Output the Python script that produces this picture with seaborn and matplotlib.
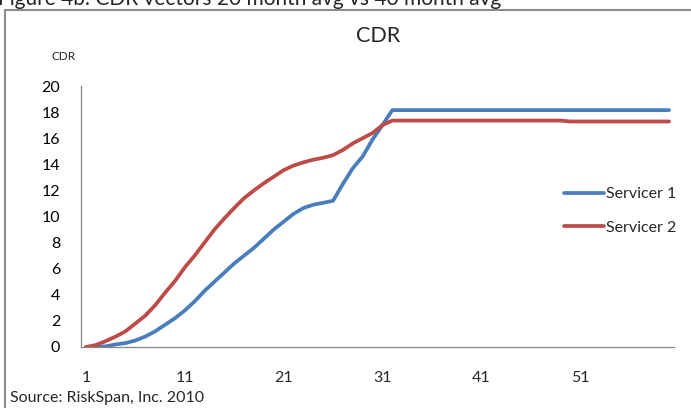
import numpy as np
import pandas as pd
import matplotlib
matplotlib.use("Agg")
import matplotlib.pyplot as plt
import seaborn as sns
from matplotlib.patches import Rectangle

months = list(range(1, 61))
servicer1 = [0.0, 0.0, 0.05, 0.2, 0.3, 0.5, 0.8, 1.2, 1.7, 2.2,
             2.8, 3.5, 4.3, 5.0, 5.7, 6.4, 7.0, 7.6, 8.3, 9.0,
             9.6, 10.2, 10.65, 10.9, 11.05, 11.2, 12.5, 13.7, 14.6, 15.9,
             17.0, 18.15] + [18.15] * 28
servicer2 = [0.0, 0.15, 0.45, 0.8, 1.2, 1.8, 2.4, 3.2, 4.15, 5.05,
             6.1, 7.0, 8.0, 9.0, 9.85, 10.65, 11.4, 12.0, 12.55, 13.05,
             13.55, 13.9, 14.15, 14.35, 14.5, 14.7, 15.1, 15.6, 16.0, 16.4,
             17.0, 17.35] + [17.35] * 17 + [17.28] * 11
series_names = ["Servicer 1", "Servicer 2"]
colors = ["#4a7ebb", "#be4b48"]
y_ticks = [0, 2, 4, 6, 8, 10, 12, 14, 16, 18, 20]
x_labels = [1, 11, 21, 31, 41, 51]

df = pd.DataFrame({
    "month": months * 2,
    "cdr": servicer1 + servicer2,
    "series": [series_names[0]] * 60 + [series_names[1]] * 60,
})

sns.set_style("white")
FONT = ["Lato", "DejaVu Sans"]
plt.rcParams["font.family"] = FONT

W, H = 691, 408
fig = plt.figure(figsize=(W / 100, H / 100), dpi=100)
ax = fig.add_axes([81 / W, 1 - 347 / H, (674 - 81) / W, (347 - 86) / H])

sns.lineplot(data=df, x="month", y="cdr", hue="series", palette=colors,
             linewidth=2.7, ax=ax, legend=False)

ax.set_xlim(0.5, 60.5)
ax.set_ylim(0, 20)
ax.set_yticks(y_ticks)
ax.set_yticklabels([str(v) for v in y_ticks], fontsize=11.5, color="#000000")
ax.set_xticks(np.arange(0.5, 61, 10))
ax.set_xticklabels([])
ax.set_xticks(x_labels, minor=True)
ax.set_xticklabels([str(v) for v in x_labels], minor=True, fontsize=11.5)
ax.tick_params(axis="x", which="minor", length=0, pad=17)
ax.tick_params(axis="x", which="major", length=6, width=0.9, color="#868686", direction="out")
ax.tick_params(axis="y", length=6, width=0.9, color="#868686", direction="out", pad=9)
ax.set_xlabel("")
ax.set_ylabel("")
for side in ["top", "right"]:
    ax.spines[side].set_visible(False)
for side in ["left", "bottom"]:
    ax.spines[side].set_color("#868686")
    ax.spines[side].set_linewidth(0.9)

handles = [plt.Line2D([], [], color=c, lw=2.7) for c in colors]
leg = fig.legend(handles, series_names, loc="center left",
                 bbox_to_anchor=(556 / W, 1 - 211 / H), frameon=False,
                 fontsize=11.5, handlelength=2.5, handletextpad=0.15,
                 labelspacing=1.2, borderpad=0)

fig.text(378 / W, 1 - 36 / H, "CDR", ha="center", va="center", fontsize=15.5)
fig.text(52 / W, 1 - 57 / H, "CDR", ha="left", va="center", fontsize=8.5)
fig.text(10 / W, 1 - 398 / H, "Source: RiskSpan, Inc. 2010", ha="left",
         va="center", fontsize=11.5)
fig.text(-2 / W, 1 - 5 / H, "Figure 4b: CDR vectors 20 month avg vs 40 month avg",
         ha="left", va="baseline", fontsize=15)

fig.patches.append(Rectangle((5 / W, -0.05), 1.0, 1 - 10 / H + 0.05,
                             transform=fig.transFigure, fill=False,
                             edgecolor="#8c8c8c", linewidth=1.5))

fig.savefig("out.png", dpi=100)
